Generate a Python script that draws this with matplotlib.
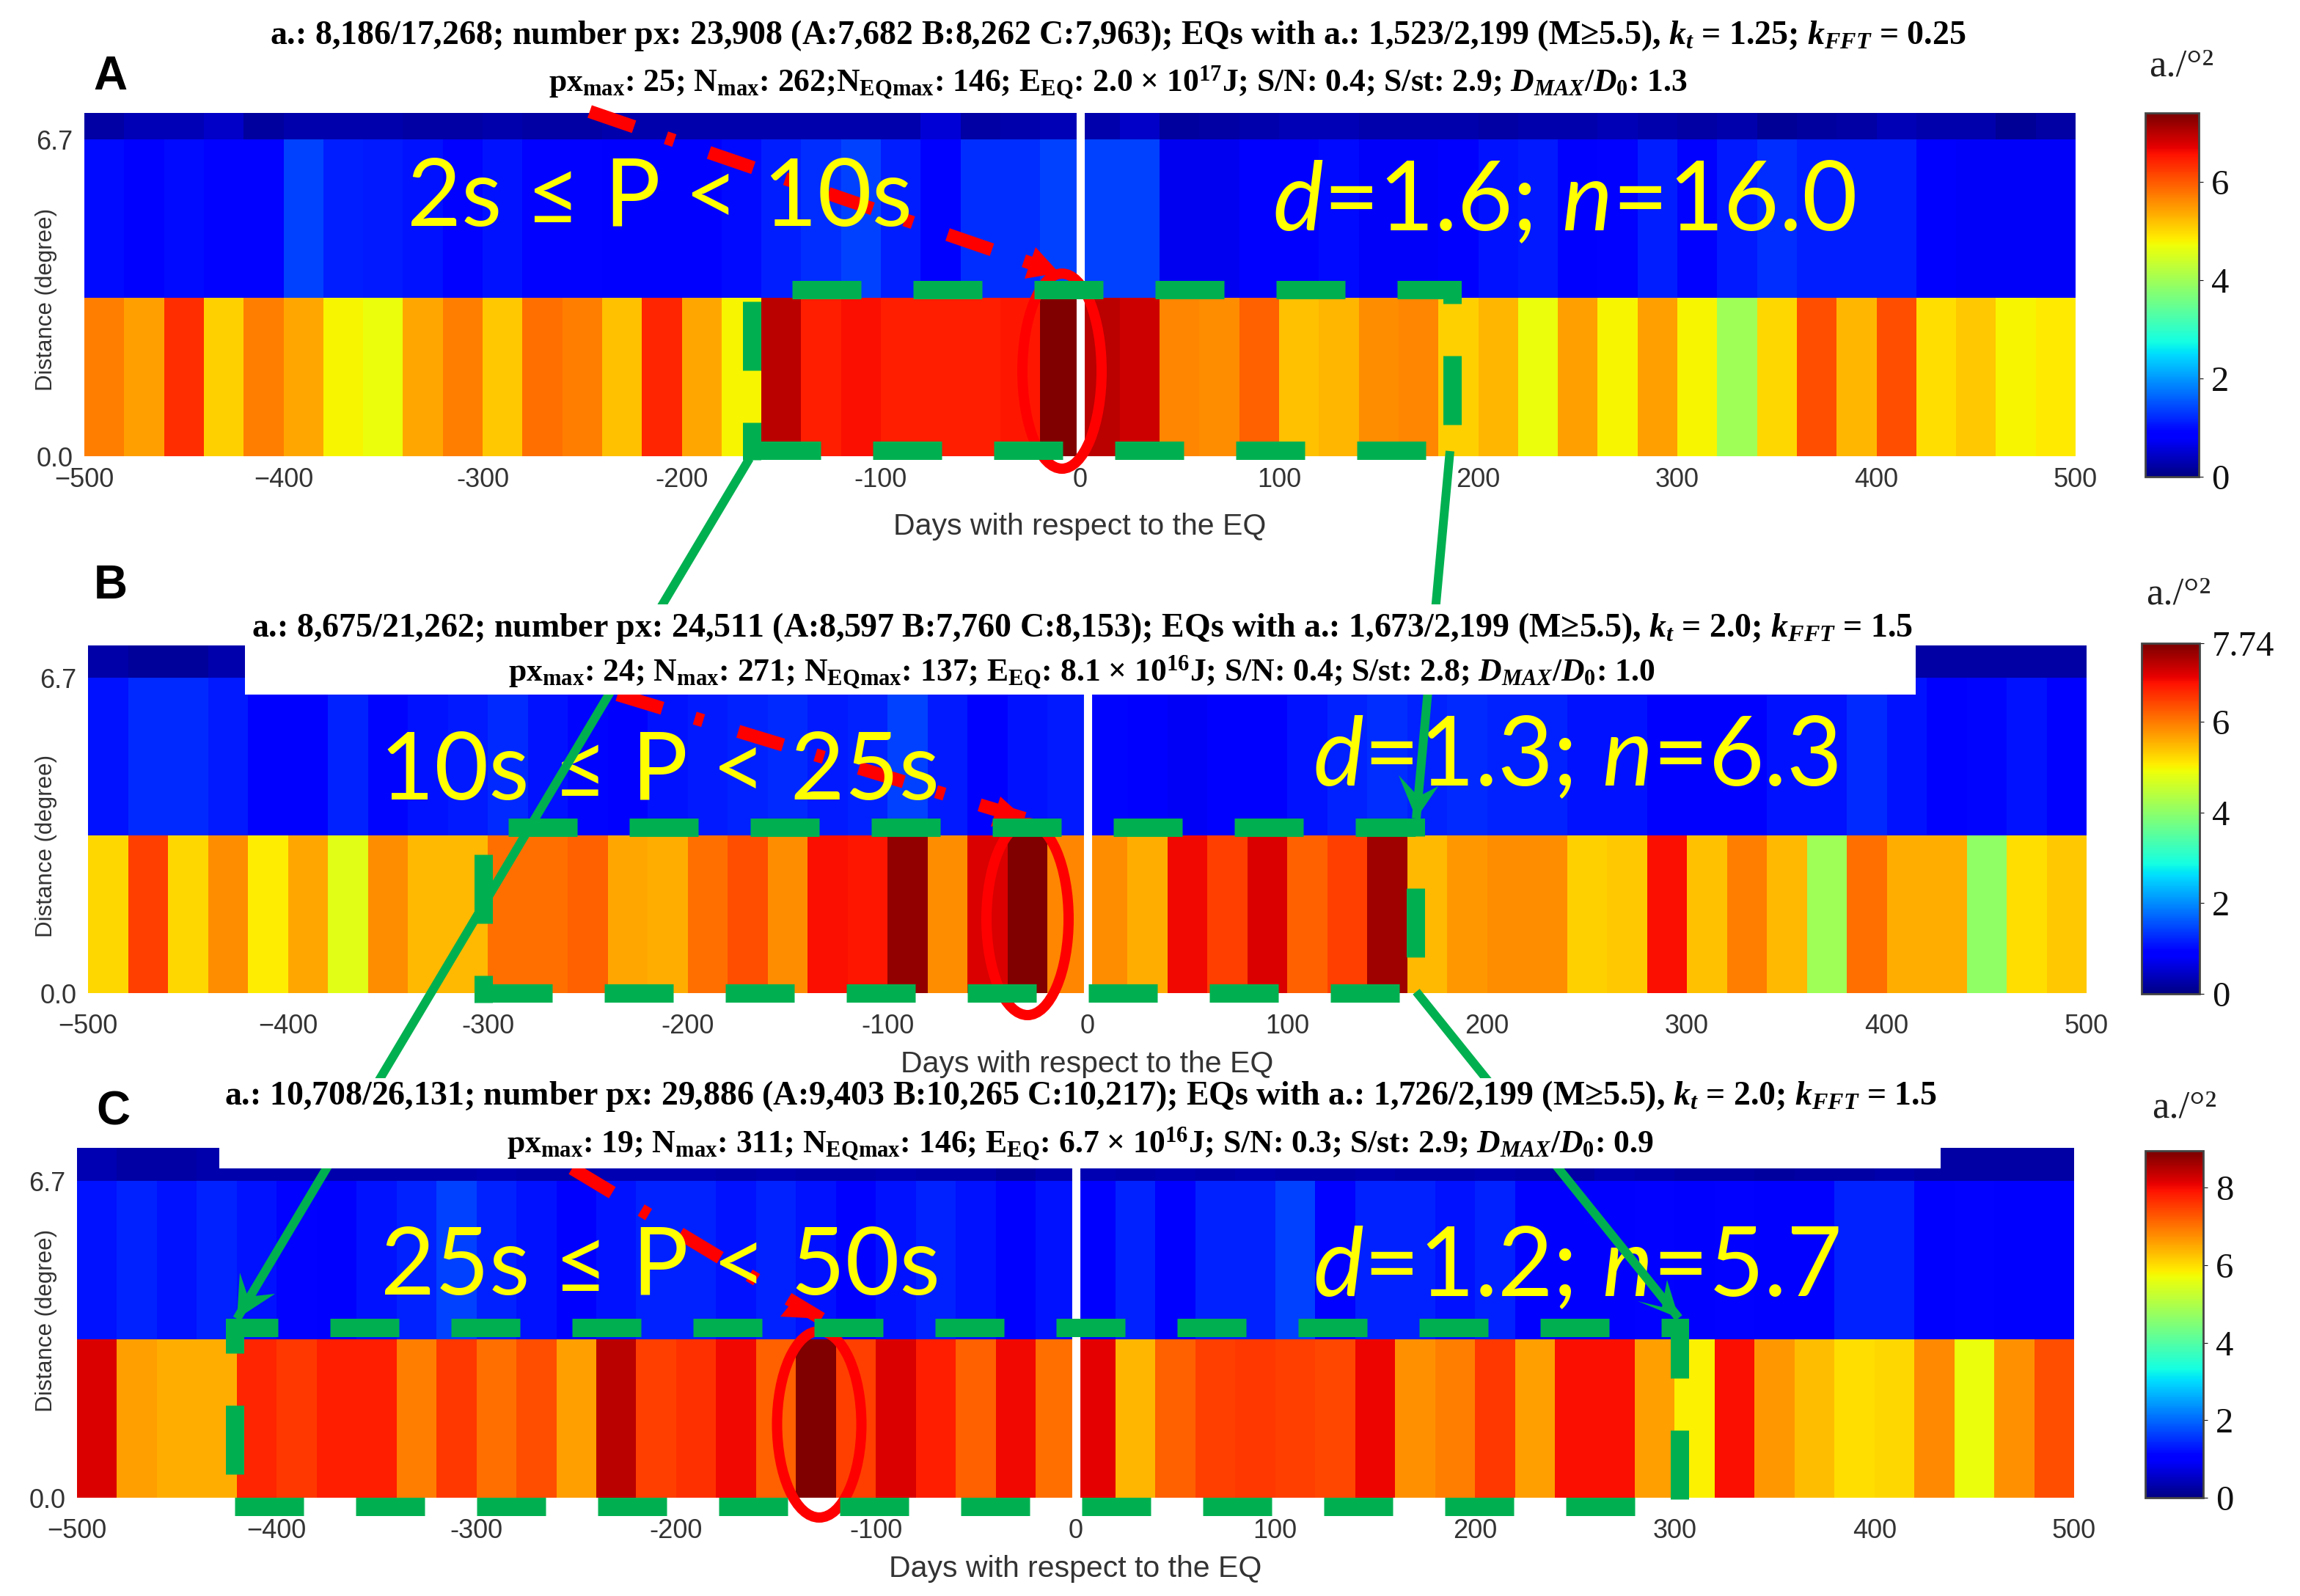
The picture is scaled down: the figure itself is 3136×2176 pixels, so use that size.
import numpy as np
import matplotlib
matplotlib.use("Agg")
import matplotlib.pyplot as plt
from matplotlib.patches import Ellipse, Polygon, Rectangle

W, H = 3136, 2176

# bin edges (days) and distance edges (degree)
day_edges = np.arange(-500, 501, 20)
dist_edges_a = [0.0, 3.35, 6.7, 7.26]
dist_edges_b = [0.0, 3.35, 6.7, 7.39]
dist_edges_c = [0.0, 3.35, 6.7, 7.4]
day_ticks = [-500, -400, -300, -200, -100, 0, 100, 200, 300, 400, 500]
day_labels = ["\u2212500", "\u2212400", "-300", "-200", "-100", "0", "100", "200", "300", "400", "500"]

# panel A, a./deg2 per bin
a_low = [5.74, 5.48, 6.36, 5.11, 5.74, 5.42, 4.82, 4.7, 5.42, 5.74, 5.17, 5.85, 5.74, 5.23, 6.42,
         5.42, 4.82, 7.02, 6.48, 6.61, 6.48, 6.48, 6.48, 6.55, 7.4,
         7.0, 6.88, 5.67, 5.61, 5.98, 5.23, 5.29, 5.61, 5.67, 5.11, 5.29, 4.7, 5.48, 4.82, 5.48,
         4.82, 4.03, 5.04, 6.1, 5.29, 6.1, 4.98, 5.17, 4.82, 4.91]
a_mid = [1.0, 0.89, 1.0, 0.95, 0.95, 1.39, 1.15, 1.1, 1.05, 0.95, 1.05, 0.95, 0.95, 0.89, 0.89,
         0.89, 1.0, 1.15, 1.27, 1.39, 1.15, 0.89, 1.27, 1.27, 1.39,
         1.39, 1.39, 0.75, 0.75, 0.89, 0.89, 1.0, 0.8, 0.8, 0.85, 1.05, 1.1, 0.89, 0.95, 1.15,
         0.95, 1.1, 1.27, 1.15, 1.15, 1.15, 0.85, 0.8, 0.8, 0.8]
a_top = [0.26, 0.37, 0.37, 0.47, 0.21, 0.3, 0.3, 0.3, 0.26, 0.26, 0.3, 0.26, 0.26, 0.3, 0.3,
         0.3, 0.3, 0.3, 0.3, 0.3, 0.3, 0.56, 0.26, 0.3, 0.37,
         0.3, 0.47, 0.21, 0.26, 0.3, 0.37, 0.37, 0.3, 0.3, 0.3, 0.26, 0.3, 0.3, 0.37, 0.3,
         0.26, 0.3, 0.16, 0.21, 0.26, 0.37, 0.3, 0.3, 0.16, 0.26]

# panel B
b_low = [5.27, 6.52, 5.27, 5.87, 5.08, 5.67, 4.81, 5.87, 5.53, 5.53, 6.12, 6.12, 6.25, 5.67, 5.6,
         6.12, 6.39, 5.87, 6.91, 6.85, 7.6, 5.87, 7.11, 7.74, 5.93,
         5.87, 5.6, 6.97, 6.52, 7.11, 6.25, 6.52, 7.52, 5.53, 5.8, 5.87, 5.87, 5.34, 5.4, 6.91,
         5.47, 6.0, 5.53, 4.21, 6.12, 5.6, 5.6, 4.06, 5.21, 5.4]
b_mid = [1.09, 1.27, 1.27, 1.15, 0.85, 0.85, 1.21, 1.0, 1.09, 1.15, 1.27, 1.09, 1.0, 0.93, 1.09,
         1.15, 1.21, 1.27, 1.15, 1.21, 1.46, 1.15, 0.93, 1.09, 1.15,
         1.0, 0.93, 0.8, 0.85, 0.85, 1.09, 1.21, 1.33, 1.21, 1.27, 1.21, 1.21, 1.09, 1.09, 0.93,
         0.85, 0.93, 1.09, 1.09, 1.27, 1.09, 0.93, 1.0, 1.09, 0.93]
b_top = [0.3, 0.2, 0.2, 0.33, 0.3, 0.3, 0.3, 0.3, 0.3, 0.3, 0.3, 0.3, 0.3, 0.3, 0.3,
         0.3, 0.3, 0.3, 0.3, 0.3, 0.3, 0.3, 0.3, 0.3, 0.3,
         0.3, 0.3, 0.3, 0.3, 0.3, 0.3, 0.3, 0.3, 0.3, 0.3, 0.3, 0.3, 0.3, 0.3, 0.3,
         0.3, 0.3, 0.3, 0.25, 0.25, 0.25, 0.25, 0.25, 0.25, 0.25]

# panel C
c_low = [8.23, 6.63, 6.48, 6.48, 7.77, 7.62, 7.84, 7.84, 6.94, 7.62, 7.08, 7.38, 6.63, 8.49, 7.54,
         7.69, 8.06, 7.23, 8.95, 7.54, 8.23, 7.84, 7.23, 8.06, 7.08,
         8.15, 6.4, 7.23, 7.54, 7.62, 7.54, 7.46, 8.1, 6.78, 6.94, 7.62, 6.63, 7.99, 7.99, 6.63,
         5.84, 7.99, 6.7, 6.33, 6.02, 6.09, 6.82, 5.68, 6.78, 7.38]
c_mid = [1.26, 1.4, 1.26, 1.4, 1.26, 1.15, 1.07, 1.26, 1.4, 1.68, 1.4, 1.26, 1.07, 1.26, 1.4,
         1.4, 1.26, 1.4, 1.26, 1.07, 1.26, 1.4, 1.26, 1.07, 1.26,
         1.07, 1.4, 1.07, 1.4, 1.4, 1.68, 1.15, 1.4, 1.4, 1.26, 1.4, 1.07, 1.07, 1.07, 1.15,
         1.07, 1.15, 1.0, 1.0, 1.4, 1.4, 1.07, 1.15, 1.0, 1.0]
c_top = [0.4, 0.3, 0.3, 0.35, 0.35, 0.35, 0.35, 0.35, 0.35, 0.35, 0.4, 0.35, 0.35, 0.4, 0.4,
         0.4, 0.35, 0.4, 0.35, 0.35, 0.4, 0.35, 0.35, 0.25, 0.35,
         0.4, 0.35, 0.4, 0.35, 0.4, 0.35, 0.35, 0.4, 0.35, 0.35, 0.4, 0.35, 0.3, 0.4, 0.35,
         0.3, 0.3, 0.25, 0.3, 0.3, 0.35, 0.3, 0.3, 0.3, 0.3]

titles_a = [r"a.: 8,186/17,268; number px: 23,908 (A:7,682 B:8,262 C:7,963); EQs with a.: 1,523/2,199 (M≥5.5), $\mathit{k}_{\mathit{t}}$ = 1.25; $\mathit{k}_{\mathit{FFT}}$ = 0.25",
            r"px$_{\mathrm{max}}$: 25; N$_{\mathrm{max}}$: 262;N$_{\mathrm{EQmax}}$: 146; E$_{\mathrm{EQ}}$: 2.0 × 10$^{17}$J; S/N: 0.4; S/st: 2.9; $\mathit{D}_{\mathit{MAX}}$/$\mathit{D}_{\mathit{0}}$: 1.3"]
titles_b = [r"a.: 8,675/21,262; number px: 24,511 (A:8,597 B:7,760 C:8,153); EQs with a.: 1,673/2,199 (M≥5.5), $\mathit{k}_{\mathit{t}}$ = 2.0; $\mathit{k}_{\mathit{FFT}}$ = 1.5",
            r"px$_{\mathrm{max}}$: 24; N$_{\mathrm{max}}$: 271; N$_{\mathrm{EQmax}}$: 137; E$_{\mathrm{EQ}}$: 8.1 × 10$^{16}$J; S/N: 0.4; S/st: 2.8; $\mathit{D}_{\mathit{MAX}}$/$\mathit{D}_{\mathit{0}}$: 1.0"]
titles_c = [r"a.: 10,708/26,131; number px: 29,886 (A:9,403 B:10,265 C:10,217); EQs with a.: 1,726/2,199 (M≥5.5), $\mathit{k}_{\mathit{t}}$ = 2.0; $\mathit{k}_{\mathit{FFT}}$ = 1.5",
            r"px$_{\mathrm{max}}$: 19; N$_{\mathrm{max}}$: 311; N$_{\mathrm{EQmax}}$: 146; E$_{\mathrm{EQ}}$: 6.7 × 10$^{16}$J; S/N: 0.3; S/st: 2.9; $\mathit{D}_{\mathit{MAX}}$/$\mathit{D}_{\mathit{0}}$: 0.9"]

GREEN = "#00b050"
RED = "#ff0000"
YELLOW = "#ffff00"

plt.rcParams["font.family"] = "Liberation Sans"
plt.rcParams["mathtext.fontset"] = "custom"
plt.rcParams["mathtext.rm"] = "Liberation Serif:bold"
plt.rcParams["mathtext.it"] = "Liberation Serif:italic:bold"
plt.rcParams["mathtext.sf"] = "Lato:italic"
plt.rcParams["mathtext.default"] = "rm"

fig = plt.figure(figsize=(W / 100, H / 100), dpi=100)


def px_axes(left, top, right, bottom):
    """Axes placed by its pixel box"""
    return fig.add_axes([left / W, 1 - bottom / H, (right - left) / W, (bottom - top) / H])


def draw_panel(box, cbar_box, edges, low, mid, top, vmax, cbar_ticks, cbar_labels, ylabel_y, tick_pad, xlabel_pad):
    left, ptop, right, bottom = box
    ax = px_axes(left, ptop, right, bottom)
    mesh = ax.pcolormesh(day_edges, edges, np.array([low, mid, top]), cmap="jet", vmin=0, vmax=vmax,
                         antialiased=False, linewidth=0)
    ax.axvline(0, color="white", lw=8)
    ax.set_xlim(-500, 500)
    ax.set_ylim(edges[0], edges[-1])
    ax.set_xticks(day_ticks)
    ax.set_xticklabels(day_labels)
    ax.set_yticks([0.0, 6.7])
    ax.set_yticklabels(["0.0", "6.7"])
    ax.tick_params(length=0, labelsize=26, colors="#333333")
    ax.tick_params(axis="x", pad=tick_pad)
    ax.tick_params(axis="y", pad=11)
    for spine in ax.spines.values():
        spine.set_visible(False)
    ax.set_xlabel("Days with respect to the EQ", fontsize=29.5, color="#333333", labelpad=xlabel_pad)
    ax.set_ylabel("Distance (degree)", fontsize=22.5, color="#333333")
    ax.yaxis.set_label_coords((78 - left) / (right - left), (bottom - ylabel_y) / (bottom - ptop))

    cax = px_axes(*cbar_box)
    cbar = fig.colorbar(mesh, cax=cax)
    cbar.set_ticks(cbar_ticks)
    cbar.set_ticklabels(cbar_labels)
    cbar.ax.tick_params(length=4, pad=8, colors="#111111")
    for label in cbar.ax.get_yticklabels():
        label.set_fontfamily("Liberation Serif")
        label.set_fontsize(35)
    cbar.outline.set_edgecolor("#444444")
    cbar.outline.set_linewidth(2)
    cbar.solids.set_edgecolor("face")


draw_panel((115, 154, 2830, 622), (2925, 154, 2998, 650), dist_edges_a, a_low, a_mid, a_top, 7.4,
           [0, 2, 4, 6], ["0", "2", "4", "6"], 408, 11, 19)
draw_panel((120, 880, 2845, 1354), (2920, 877, 2999, 1355), dist_edges_b, b_low, b_mid, b_top, 7.74,
           [0, 2, 4, 6, 7.74], ["0", "2", "4", "6", "7.74"], 1153, 20, 11)
draw_panel((105, 1565, 2828, 2042), (2925, 1569, 3004, 2042), dist_edges_c, c_low, c_mid, c_top, 8.95,
           [0, 2, 4, 6, 8], ["0", "2", "4", "6", "8"], 1800, 20, 11)

# everything drawn over the panels, in picture pixels
over = fig.add_axes([0, 0, 1, 1], zorder=10)
over.set_xlim(0, W)
over.set_ylim(H, 0)
over.axis("off")
over.patch.set_visible(False)

PT = 0.72  # points per pixel at dpi 100


def dashed_box(x0, x1, ytop, ybot):
    lw = 25
    # the last leg runs half a line width past the corner so the dash closes the L
    over.plot([x0, x1, x1, x0, x0], [ybot, ybot, ytop, ytop, ybot + lw / 2], color=GREEN, lw=lw * PT,
              linestyle=(0, (94 / lw, 71 / lw)), dash_capstyle="butt", dash_joinstyle="miter", zorder=4)


def red_arrow(start, tip, wing1, wing2):
    lw = 18
    over.plot([start[0], tip[0]], [start[1], tip[1]], color=RED, lw=lw * PT,
              linestyle=(0, (64 / lw, 46 / lw, 12 / lw, 50 / lw)), dash_capstyle="butt", zorder=3)
    over.add_patch(Polygon([tip, wing1, wing2], closed=True, color=RED, lw=0, zorder=3))


def green_link(start, end, head=None):
    over.plot([start[0], end[0]], [start[1], end[1]], color=GREEN, lw=12 * PT,
              solid_capstyle="butt", zorder=5)
    if head:
        over.add_patch(Polygon(head, closed=True, color=GREEN, lw=0, zorder=5))


dashed_box(1025, 1980, 395, 614)
dashed_box(659, 1930, 1128, 1354)
dashed_box(320, 2290, 1810, 2054)

red_arrow((804, 152), (1444, 372), (1412, 337), (1397, 380))
red_arrow((842, 947), (1397, 1116), (1364, 1086), (1351, 1127))
red_arrow((780, 1593), (1120, 1798), (1086, 1768), (1064, 1795))

for cx, cy, w, h in [(1448, 506, 108, 266), (1401, 1253, 112, 262), (1117, 1942, 115, 254)]:
    over.add_patch(Ellipse((cx, cy), w, h, fill=False, edgecolor=RED, lw=14 * PT, zorder=3))

green_link((1022, 625), (323, 1798), [(323, 1798), (327, 1735), (338, 1768), (375, 1764)])
green_link((1977, 615), (1931, 1116), [(1931, 1116), (1907, 1057), (1934, 1086), (1961, 1072)])
green_link((1931, 1352), (2289, 1797), [(2289, 1797), (2273, 1745), (2266, 1782), (2233, 1774)])

# white bands behind the titles of B and C
over.add_patch(Rectangle((334, 824), 2278, 123, color="white", lw=0, zorder=6))
over.add_patch(Rectangle((299, 1470), 2347, 123, color="white", lw=0, zorder=6))

for text, x, y in [("A", 150, 122), ("B", 151, 816), ("C", 154, 1533)]:
    over.text(x, y, text, fontsize=46, fontweight="bold", family="Liberation Sans", ha="center",
              va="baseline", zorder=7)

for (lines, x, y1, y2) in [(titles_a, 1524, 48, 112), (titles_b, 1475, 856, 916), (titles_c, 1473, 1494, 1559)]:
    over.text(x, y1, lines[0], fontsize=33, fontweight="bold", family="Liberation Serif", ha="center",
              va="center", zorder=7)
    over.text(x, y2, lines[1], fontsize=31.4, fontweight="bold", family="Liberation Serif", ha="center",
              va="center", zorder=7)

big = dict(color=YELLOW, fontsize=92, family="Lato", va="baseline", ha="center", zorder=3.5)
over.text(900, 308, "2s ≤ P < 10s", **big)
over.text(900, 1090, "10s ≤ P < 25s", **big)
over.text(900, 1765, "25s ≤ P < 50s", **big)
big["fontsize"] = 94
over.text(2133, 314, r"$\mathsf{d}$=1.6; $\mathsf{n}$=16.0", **big)
over.text(2148, 1071, r"$\mathsf{d}$=1.3; $\mathsf{n}$=6.3", **big)
over.text(2149, 1767, r"$\mathsf{d}$=1.2; $\mathsf{n}$=5.7", **big)

for x, y in [(2974, 90), (2970, 810), (2978, 1510)]:
    over.text(x, y, "a./°²", fontsize=38, family="Liberation Serif", ha="center", va="center",
              color="#222222", zorder=7)

fig.savefig("out.png", dpi=100)
